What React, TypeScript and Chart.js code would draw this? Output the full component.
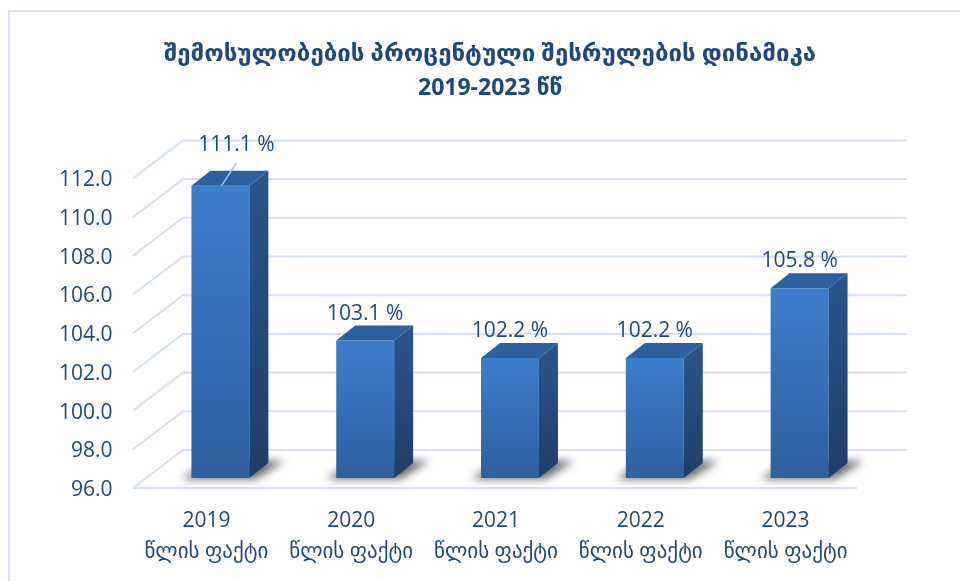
import React, { useEffect, useRef } from 'react';
import { Chart, registerables } from 'chart.js';

Chart.register(...registerables);

// ---- data ----
const YEARS = ['2019', '2020', '2021', '2022', '2023'];
const CATEGORY_SUFFIX = 'წლის ფაქტი';
const VALUES = [111.1, 103.1, 102.2, 102.2, 105.8];
const Y_MIN = 96;
const Y_MAX = 112;
const Y_STEP = 2;
const TITLE = 'შემოსულობების პროცენტული შესრულების დინამიკა';
const SUBTITLE = '2019-2023 წწ';

// ---- styles ----
const TEXT = '#1F497D';
const GRID = '#D6E1F2';
const FONT = "'Open Sans', 'DejaVu Sans', sans-serif";
const FRONT = { dx: -15, dy: 10 }; // front plane relative to bar plane
const BACK = { dx: 35, dy: -28 }; // back wall relative to bar plane
const DEPTH = { dx: 19, dy: -15 }; // bar depth
const MOVED_LABEL = { index: 0, dx: 16, dy: -41 };

const threeD = {
  id: 'threeD',
  beforeDraw(chart: any) {
    const { ctx, width, height } = chart;
    ctx.save();
    ctx.strokeStyle = '#D6E1F1';
    ctx.lineWidth = 2;
    ctx.beginPath();
    ctx.moveTo(9, height);
    ctx.lineTo(9, 11);
    ctx.lineTo(width, 11);
    ctx.stroke();
    ctx.restore();
  },
  beforeDatasetsDraw(chart: any) {
    const { ctx, chartArea: a, scales } = chart;
    const y = scales.y;
    ctx.save();
    ctx.strokeStyle = GRID;
    ctx.lineWidth = 2;
    y.ticks.forEach((t: any) => {
      const py = y.getPixelForValue(t.value);
      ctx.beginPath();
      ctx.moveTo(a.left + FRONT.dx, py + FRONT.dy);
      ctx.lineTo(a.left + BACK.dx, py + BACK.dy);
      ctx.lineTo(a.right + BACK.dx, py + BACK.dy);
      ctx.stroke();
    });
    const p0 = y.getPixelForValue(Y_MIN);
    ctx.beginPath();
    ctx.moveTo(a.left + FRONT.dx, p0 + FRONT.dy);
    ctx.lineTo(a.right + FRONT.dx, p0 + FRONT.dy);
    ctx.stroke();

    // shadows
    const meta = chart.getDatasetMeta(0);
    meta.data.forEach((bar: any) => {
      const { x, width } = bar.getProps(['x', 'width'], true);
      const base = p0;
      const l = x - width / 2;
      const r = x + width / 2;
      ctx.save();
      ctx.filter = 'blur(4px)';
      ctx.fillStyle = 'rgba(0,0,0,0.6)';
      ctx.beginPath();
      ctx.moveTo(l - 10, base + 1);
      ctx.lineTo(r + 6, base + 1);
      ctx.lineTo(r + DEPTH.dx + 16, base + DEPTH.dy - 2);
      ctx.lineTo(l + DEPTH.dx, base + DEPTH.dy - 2);
      ctx.closePath();
      ctx.fill();
      ctx.restore();
    });
    ctx.restore();
  },
  afterDatasetsDraw(chart: any) {
    const { ctx, scales } = chart;
    const base = scales.y.getPixelForValue(Y_MIN);
    const meta = chart.getDatasetMeta(0);
    ctx.save();
    meta.data.forEach((bar: any, i: number) => {
      const { x, y: top, width } = bar.getProps(['x', 'y', 'width'], true);
      const l = x - width / 2;
      const r = x + width / 2;
      // side face
      const sg = ctx.createLinearGradient(0, top, 0, base);
      sg.addColorStop(0, '#2A5389');
      sg.addColorStop(1, '#1F3E68');
      ctx.fillStyle = sg;
      ctx.beginPath();
      ctx.moveTo(r, top);
      ctx.lineTo(r + DEPTH.dx, top + DEPTH.dy);
      ctx.lineTo(r + DEPTH.dx, base + DEPTH.dy);
      ctx.lineTo(r, base);
      ctx.closePath();
      ctx.fill();
      // top face
      ctx.fillStyle = '#2E5F9E';
      ctx.beginPath();
      ctx.moveTo(l, top);
      ctx.lineTo(l + DEPTH.dx, top + DEPTH.dy);
      ctx.lineTo(r + DEPTH.dx, top + DEPTH.dy);
      ctx.lineTo(r, top);
      ctx.closePath();
      ctx.fill();

      // value label
      const text = `${VALUES[i].toFixed(1)} %`;
      let lx = x;
      let ly = top - 27;
      if (i === MOVED_LABEL.index) {
        lx = x + MOVED_LABEL.dx;
        ly = top + MOVED_LABEL.dy;
        ctx.strokeStyle = '#A9C4E6';
        ctx.lineWidth = 1.5;
        ctx.beginPath();
        ctx.moveTo(x + 1, top);
        ctx.lineTo(x + 16, top - 23);
        ctx.stroke();
      }
      ctx.fillStyle = TEXT;
      ctx.font = `21px ${FONT}`;
      ctx.textAlign = 'center';
      ctx.textBaseline = 'middle';
      ctx.fillText(text, lx, ly);
    });
    ctx.restore();
  },
};

export default function App() {
  const ref = useRef<HTMLCanvasElement | null>(null);

  useEffect(() => {
    if (!ref.current) return;
    const chart = new Chart(ref.current, {
      type: 'bar',
      data: {
        labels: YEARS.map((y) => [y, CATEGORY_SUFFIX]),
        datasets: [
          {
            data: VALUES,
            borderWidth: 0,
            categoryPercentage: 0.8,
            barPercentage: 0.5,
            backgroundColor: (c: any) => {
              const ch = c.chart;
              const ys = ch.scales?.y;
              if (!ch.chartArea || !ys || c.type !== 'data') return '#3679C6';
              const top = ys.getPixelForValue(c.raw);
              const bottom = ys.getPixelForValue(Y_MIN);
              const g = ch.ctx.createLinearGradient(0, top, 0, bottom);
              g.addColorStop(0, '#3D7ECC');
              g.addColorStop(1, '#2E5FA0');
              return g;
            },
          },
        ],
      },
      options: {
        animation: false,
        responsive: true,
        maintainAspectRatio: false,
        layout: { padding: { top: 22, right: 88, left: 108, bottom: 0 } },
        plugins: {
          legend: { display: false },
          tooltip: { enabled: false },
          title: {
            display: true,
            text: TITLE,
            color: TEXT,
            font: { family: FONT, size: 24, weight: 'bold', lineHeight: 1.2 },
            padding: { top: 18, bottom: 6 },
          },
          subtitle: {
            display: true,
            text: SUBTITLE,
            color: TEXT,
            font: { family: FONT, size: 23, weight: 'bold', lineHeight: 1.2 },
            padding: { top: 0, bottom: 66 },
          },
        },
        scales: {
          x: {
            grid: { display: false, drawTicks: false },
            border: { display: false },
            ticks: {
              color: TEXT,
              font: { family: FONT, size: 21, lineHeight: 1.45 },
              padding: 28,
              labelOffset: -14,
              maxRotation: 0,
              autoSkip: false,
            },
            afterFit: (s: any) => {
              s.height = 103;
            },
          },
          y: {
            min: Y_MIN,
            max: Y_MAX,
            grid: { display: false, drawTicks: false },
            border: { display: false },
            ticks: {
              stepSize: Y_STEP,
              color: TEXT,
              font: { family: FONT, size: 21 },
              mirror: true,
              crossAlign: 'far',
              padding: -89,
              labelOffset: 12,
              callback: (v: any) => Number(v).toFixed(1),
            },
            afterFit: (s: any) => {
              s.width = 40;
            },
          },
        },
      },
      plugins: [threeD],
    });
    return () => chart.destroy();
  }, []);

  return (
    <div style={{ position: 'fixed', left: 0, top: 0, width: 960, height: 581, background: '#fff' }}>
      <canvas ref={ref} />
    </div>
  );
}
